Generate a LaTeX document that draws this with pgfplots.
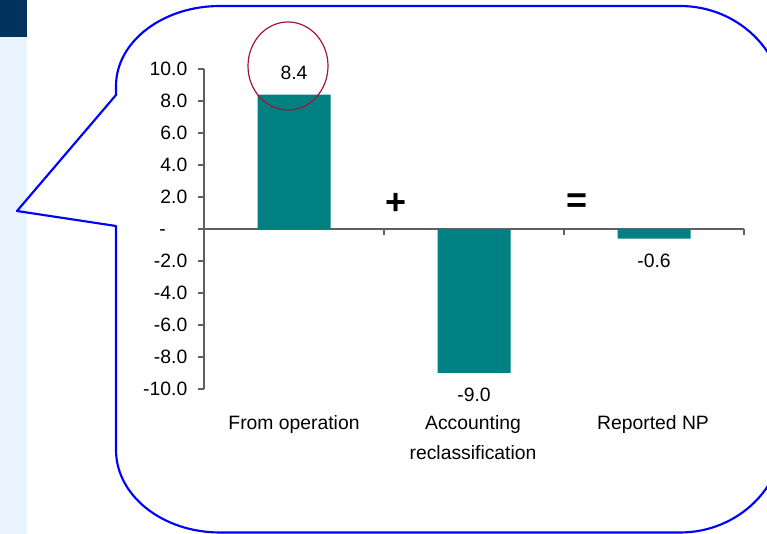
\documentclass[border=0pt]{standalone}
\usepackage{fontspec}
\setmainfont{Liberation Sans}
\usepackage{pgfplots}
\pgfplotsset{compat=1.18}
\definecolor{barteal}{HTML}{008080}
\definecolor{bubbleblue}{HTML}{0000FF}
\definecolor{circred}{HTML}{A0144A}
\definecolor{navy}{HTML}{02335F}
\definecolor{stripblue}{HTML}{EAF4FE}
\definecolor{axisgray}{HTML}{606060}
\newcommand{\lblfont}{\fontsize{14.5}{17}\selectfont}
\begin{document}
\begin{tikzpicture}
\begin{scope}[x=0.75pt,y=-0.75pt,yshift=400.5pt]
\useasboundingbox (0,0) rectangle (767,534);
\fill[white] (0,0) rectangle (767,534);
\fill[stripblue] (0,0) rectangle (27,534);
\fill[navy] (0,0) rectangle (27,37);
\begin{scope}
\clip (0,0) rectangle (767,534);
\draw[bubbleblue, line width=1.6pt, line join=round]
  (220,6) -- (680,6)
  arc[start angle=270,end angle=360,x radius=104,y radius=100]
  -- (784,432.5)
  arc[start angle=0,end angle=90,x radius=104,y radius=100]
  -- (220,532.5)
  arc[start angle=90,end angle=180,x radius=104,y radius=82.5]
  -- (116,226) -- (17,211) -- (116,95) -- (116,86)
  arc[start angle=180,end angle=270,x radius=104,y radius=80]
  -- cycle;
\end{scope}
\end{scope}
\begin{axis}[
  at={(153pt,108.75pt)}, anchor=south west,
  scale only axis, width=405pt, height=240pt,
  xmin=-0.5, xmax=2.5, ymin=-10, ymax=10,
  axis x line=middle, axis y line=left,
  axis line style={-, axisgray, line width=0.9pt},
  xtick={-0.5,0.5,1.5,2.5}, xticklabels={},
  ytick={-10,-8,...,10},
  yticklabels={-10.0,-8.0,-6.0,-4.0,-2.0,{-\phantom{00}},2.0,4.0,6.0,8.0,10.0},
  tick align=outside, major tick length=4.5pt,
  tick style={axisgray, line width=0.9pt},
  tick label style={font=\lblfont},
  yticklabel style={xshift=-4.5pt},
  ybar, bar width=54.75pt,
  nodes near coords, point meta=y,
  nodes near coords align=vertical,
  every node near coord/.append style={font=\lblfont, inner ysep=11pt,
    /pgf/number format/fixed, /pgf/number format/precision=1,
    /pgf/number format/fixed zerofill, /pgf/number format/assume math mode=true},
  clip=false,
]
\addplot[fill=barteal, draw=none] table[x=x,y=y] {
x y
0 8.4
1 -9.0
2 -0.6
};
\end{axis}
\begin{scope}[x=0.75pt,y=-0.75pt,yshift=400.5pt]
\draw[circred, line width=0.9pt] (288,66) ellipse [x radius=40, y radius=44];
\node[font=\lblfont, anchor=base] at (294,430) {From operation};
\node[font=\lblfont, anchor=base] at (473,430) {Accounting};
\node[font=\lblfont, anchor=base] at (473,460) {reclassification};
\node[font=\lblfont, anchor=base] at (653,430) {Reported NP};
\node[font=\fontsize{27}{30}\selectfont\bfseries] at (396,204) {+};
\node[font=\fontsize{27}{30}\selectfont\bfseries] at (577,203) {=};
\end{scope}
\end{tikzpicture}
\end{document}
